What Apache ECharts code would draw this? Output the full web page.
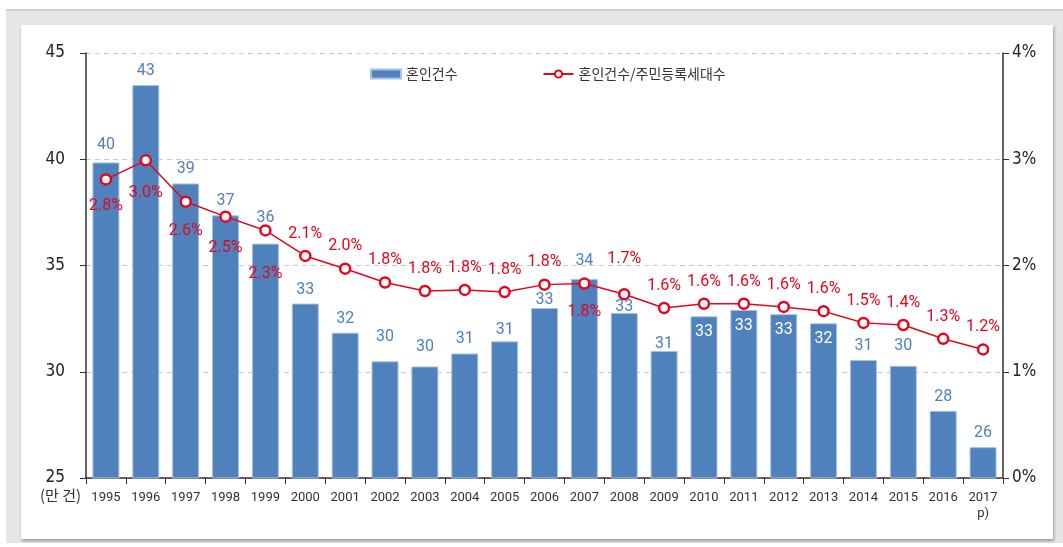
<!DOCTYPE html>
<html>
<head>
<meta charset="utf-8">
<script src="https://cdn.jsdelivr.net/npm/echarts@6/dist/echarts.min.js"></script>
<style>
  html, body { margin: 0; padding: 0; background: #fff; }
  #bg { position: absolute; left: 6px; top: 9px; width: 1057px; height: 534px;
        background: #e6e6e6; border-top: 2px solid #cfcfcf; box-sizing: border-box; }
  #panel { position: absolute; left: 21px; top: 25px; width: 1032px; height: 514px;
           background: #fff; box-shadow: 1px 2px 3px rgba(0,0,0,0.35); }
  #chart { position: absolute; left: 0; top: 0; width: 1063px; height: 547px; }
</style>
</head>
<body>
<div id="bg"></div>
<div id="panel"></div>
<div id="chart"></div>
<script>
  // 혼인건수 (만 건) 와 혼인건수/주민등록세대수 (%)
  var years = ['1995', '1996', '1997', '1998', '1999', '2000', '2001', '2002', '2003', '2004', '2005', '2006',
    '2007', '2008', '2009', '2010', '2011', '2012', '2013', '2014', '2015', '2016', '2017\np)'];
  var marriages = [39.85, 43.49, 38.86, 37.36, 36.03, 33.21, 31.84, 30.49, 30.25, 30.86, 31.43, 33.0,
    34.36, 32.77, 30.98, 32.61, 32.91, 32.71, 32.28, 30.55, 30.28, 28.16, 26.45];
  var ratio = [2.81, 2.99, 2.60, 2.46, 2.33, 2.09, 1.97, 1.84, 1.76, 1.77, 1.75, 1.82,
    1.83, 1.73, 1.60, 1.64, 1.64, 1.61, 1.57, 1.46, 1.44, 1.31, 1.21];
  var leftTicks = [25, 30, 35, 40, 45];
  var rightTicks = [0, 1, 2, 3, 4];

  // 라벨 위치 (막대 안쪽 흰 글씨 / 라벨 간격 조정)
  var barInside = [15, 16, 17, 18];
  var barLabelGap = { 0: 9, 4: 18, 7: 16, 8: 11, 10: 3, 11: 0, 12: 10, 13: -2, 14: -1, 20: 12 };
  var lineBelow = { 0: 12, 1: 18, 2: 15, 3: 17, 4: 29, 12: 14 };
  var lineAboveExtra = { 13: 21 };

  var blue = '#4f81bd';
  var red = '#e3061c';

  var barData = marriages.map(function (v, i) {
    var item = { value: v };
    if (barInside.indexOf(i) >= 0) {
      item.label = { position: 'insideTop', color: '#fff', distance: 8 };
    } else if (barLabelGap[i] !== undefined) {
      item.label = { distance: barLabelGap[i] };
    }
    return item;
  });

  var lineData = ratio.map(function (v, i) {
    var item = { value: v };
    if (lineBelow[i] !== undefined) {
      item.label = { position: 'bottom', distance: lineBelow[i] };
    } else if (lineAboveExtra[i] !== undefined) {
      item.label = { position: 'top', distance: lineAboveExtra[i] };
    }
    return item;
  });

  var tickFont = '"Liberation Sans Narrow", "DejaVu Sans Condensed", "Liberation Sans", sans-serif';

  var option = {
    animation: false,
    textStyle: { fontFamily: 'Roboto, "Noto Sans CJK KR", sans-serif' },
    legend: {
      top: 62,
      left: 365,
      itemGap: 85,
      itemWidth: 30,
      itemHeight: 9,
      textStyle: { fontSize: 14, color: '#333', fontFamily: '"Noto Sans CJK KR", sans-serif' },
      data: [
        { name: '혼인건수', icon: 'rect' },
        { name: '혼인건수/주민등록세대수' }
      ]
    },
    grid: { left: 86, right: 60, top: 53, bottom: 69 },
    xAxis: {
      type: 'category',
      data: years,
      axisLine: { lineStyle: { color: '#333', width: 1.5 } },
      axisTick: { show: true, length: 6, lineStyle: { color: '#333' } },
      axisLabel: { color: '#333', fontSize: 13, margin: 12, interval: 0, lineHeight: 16 }
    },
    yAxis: [
      {
        type: 'value',
        min: leftTicks[0],
        max: leftTicks[leftTicks.length - 1],
        interval: 5,
        axisLine: { show: true, lineStyle: { color: '#333', width: 1.5 } },
        axisTick: { show: true, length: 6, lineStyle: { color: '#333' } },
        axisLabel: { color: '#222', fontSize: 17, margin: 21, fontFamily: tickFont },
        splitLine: { show: true, lineStyle: { color: '#c8c8c8', type: [5, 4] } }
      },
      {
        type: 'value',
        min: rightTicks[0],
        max: rightTicks[rightTicks.length - 1],
        interval: 1,
        position: 'right',
        axisLine: { show: true, lineStyle: { color: '#333', width: 1.5 } },
        axisTick: { show: true, length: 6, lineStyle: { color: '#333' } },
        axisLabel: { color: '#222', fontSize: 17, margin: 9, formatter: '{value}%', fontFamily: tickFont },
        splitLine: { show: false }
      }
    ],
    graphic: [
      {
        type: 'text',
        left: 40,
        top: 488,
        style: { text: '(만 건)', fill: '#333', font: '15px "Noto Sans CJK KR", sans-serif' }
      }
    ],
    series: [
      {
        name: '혼인건수',
        type: 'bar',
        yAxisIndex: 0,
        barWidth: 27,
        itemStyle: { color: blue, borderColor: '#a9c1e0', borderWidth: 1 },
        label: {
          show: true,
          position: 'top',
          distance: 6,
          color: blue,
          fontSize: 16,
          formatter: function (p) { return Math.round(p.value); }
        },
        data: barData,
        z: 2
      },
      {
        name: '혼인건수/주민등록세대수',
        type: 'line',
        yAxisIndex: 1,
        symbol: 'circle',
        symbolSize: 10,
        lineStyle: { color: red, width: 1.5 },
        itemStyle: { color: '#fff', borderColor: red, borderWidth: 2.5 },
        label: {
          show: true,
          position: 'top',
          distance: 8,
          color: red,
          fontSize: 16,
          formatter: function (p) { return p.value.toFixed(1) + '%'; }
        },
        data: lineData,
        z: 5
      }
    ]
  };

  echarts.init(document.getElementById('chart')).setOption(option);
</script>
</body>
</html>
